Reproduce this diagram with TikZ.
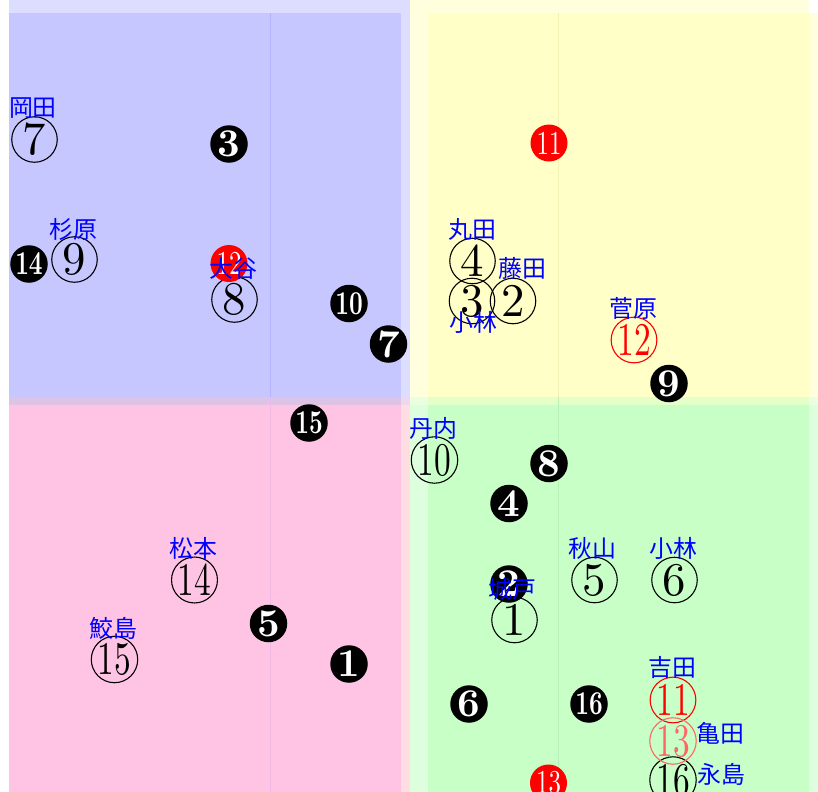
\documentclass[tikz,border=0pt]{standalone}
\usepackage{fontspec}
\usepackage{graphicx}
\newfontfamily\cjk{Noto Sans CJK JP}
\definecolor{lavout}{HTML}{DDDDFF}
\definecolor{bluein}{HTML}{C7C7FF}
\definecolor{yelout}{HTML}{FFFFDD}
\definecolor{yelin}{HTML}{FFFFC7}
\definecolor{pinkin}{HTML}{FFC4E4}
\definecolor{pinkout}{HTML}{FFDDE3}
\definecolor{greenin}{HTML}{C7FFC7}
\definecolor{greenout}{HTML}{DDFFDD}
\definecolor{bandbp}{HTML}{DEC4E4}
\definecolor{bandbp2}{HTML}{F0D8EC}
\definecolor{bandyg}{HTML}{E4FFC8}
\definecolor{bandyg2}{HTML}{EAFFE0}
\definecolor{lineb}{HTML}{B4B4FF}
\definecolor{linep}{HTML}{F0B8E4}
\definecolor{liney}{HTML}{F2F2B4}
\definecolor{lineg}{HTML}{B6F2B6}
% digits drawn at the 10pt design size and enlarged
\newcommand\dgone[1]{\scalebox{4.7}{#1}}
\newcommand\dgtwo[1]{\scalebox{3.35}[4.7]{#1}}
\newcommand\bkone[1]{\scalebox{3.95}{\bfseries #1}}
\newcommand\bktwo[1]{\scalebox{2.4}[3.35]{\bfseries #1}}
\newcommand\rdtwo[1]{\scalebox{2.5}[3.35]{#1}}
\tikzset{
  opencirc/.style={circle, draw=black, line width=1.1bp, minimum size=45.5bp, inner sep=0pt,
    text=black, font=\fontsize{10}{10}\selectfont},
  redopen/.style={opencirc, draw=red, text=red},
  lightred/.style={opencirc, draw=red!60, text=red!60},
  blackcirc/.style={circle, fill=black, text=white, minimum size=37.5bp, inner sep=0pt,
    font=\fontsize{10}{10}\selectfont},
  redfill/.style={circle, fill=red, text=white, minimum size=37bp, inner sep=0pt,
    font=\fontsize{10}{10}\selectfont},
  lbl/.style={text=blue, inner sep=0pt, font=\cjk\fontsize{24}{24}\selectfont}
}
\begin{document}
\begin{tikzpicture}[x=1bp,y=-1bp]
\useasboundingbox (0,0) rectangle (818,792);
\fill[white] (0,0) rectangle (818,792);
% top band
\fill[lavout] (9,0) rectangle (410,13);
\fill[yelout] (410,0) rectangle (809,13);
% upper row
\fill[bluein] (9,13) rectangle (401,397);
\fill[lavout] (401,13) rectangle (410,397);
\fill[yelout] (410,13) rectangle (428,397);
\fill[yelin] (428,13) rectangle (809,397);
\fill[yelout] (809,13) rectangle (818,397);
% band
\fill[bandbp] (9,397) rectangle (401,405);
\fill[bandbp2] (401,397) rectangle (410,405);
\fill[bandyg2] (410,397) rectangle (428,405);
\fill[bandyg] (428,397) rectangle (809,405);
\fill[bandyg2] (809,397) rectangle (818,405);
% lower row
\fill[pinkin] (9,405) rectangle (401,792);
\fill[pinkout] (401,405) rectangle (410,792);
\fill[greenout] (410,405) rectangle (428,792);
\fill[greenin] (428,405) rectangle (809,792);
\fill[greenout] (809,405) rectangle (818,792);
% faint vertical lines
\draw[lineb, line width=0.8bp] (270,13) -- (270,397);
\draw[linep, line width=0.8bp] (270,397) -- (270,792);
\draw[liney, line width=0.8bp] (558,13) -- (558,397);
\draw[lineg, line width=0.8bp] (558,397) -- (558,792);

% open circles
\node[opencirc] (o7) at (34.5,139.5) {\dgone{7}};
\node[opencirc] (o9) at (74.5,259.5) {\dgone{9}};
\node[opencirc] (o8) at (234.5,299.5) {\dgone{8}};
\node[opencirc] (o4) at (472.5,261) {\dgone{4}};
\node[opencirc] (o3) at (472,301) {\dgone{3}};
\node[opencirc] (o2) at (513,301) {\dgone{2}};
\node[opencirc] (o14) at (194.5,580) {\dgtwo{14}};
\node[opencirc] (o15) at (114.5,659.5) {\dgtwo{15}};
\node[opencirc] (o10) at (434.5,460) {\dgtwo{10}};
\node[opencirc] (o5) at (594.5,580) {\dgone{5}};
\node[opencirc] (o6) at (674.5,580) {\dgone{6}};
\node[opencirc] (o1) at (514.5,620) {\dgone{1}};
\node[opencirc] (o16) at (673,780) {\dgtwo{16}};
\node[redopen] (r12) at (634,340) {\dgtwo{12}};
\node[redopen] (r11) at (673,700) {\dgtwo{11}};
\node[lightred] (r13) at (673,741) {\dgtwo{13}};

% black filled
\node[blackcirc] (b3) at (229,144) {\bkone{3}};
\node[blackcirc] (b14) at (29,264) {\bktwo{14}};
\node[blackcirc] (b10) at (349,303.5) {\bktwo{10}};
\node[blackcirc] (b7) at (388.5,344) {\bkone{7}};
\node[blackcirc] (b15) at (309,423) {\bktwo{15}};
\node[blackcirc] (b9) at (669,383.5) {\bkone{9}};
\node[blackcirc] (b5) at (268.5,623.5) {\bkone{5}};
\node[blackcirc] (b1) at (349,664) {\bkone{1}};
\node[blackcirc] (b8) at (549,463.5) {\bkone{8}};
\node[blackcirc] (b4) at (509,503.5) {\bkone{4}};
\node[blackcirc] (b2) at (509,584) {\bkone{2}};
\node[blackcirc] (b6) at (469,704) {\bkone{6}};
\node[blackcirc] (b16) at (589,704) {\bktwo{16}};

% red filled
\node[redfill] (f11) at (549,143) {\rdtwo{11}};
\node[redfill] (f12) at (229,263.5) {\rdtwo{12}};
\node[redfill] (f13) at (548.5,783) {\rdtwo{13}};

% labels
\node[lbl] (l1) at (33,108) {岡田};
\node[lbl] (l2) at (73,229) {杉原};
\node[lbl] (l3) at (233,268) {大谷};
\node[lbl] (l4) at (472.5,229) {丸田};
\node[lbl] (l5) at (522,268) {藤田};
\node[lbl] (l6) at (473.5,322) {小林};
\node[lbl] (l7) at (633,308) {菅原};
\node[lbl] (l8) at (193,548) {松本};
\node[lbl] (l9) at (113,628.5) {鮫島};
\node[lbl] (l10) at (433,428.5) {丹内};
\node[lbl] (l11) at (592,548) {秋山};
\node[lbl] (l12) at (673,548) {小林};
\node[lbl] (l13) at (512.5,589) {城戸};
\node[lbl] (l14) at (672.5,667.5) {吉田};
\node[lbl] (l15) at (720.5,733.5) {亀田};
\node[lbl] (l16) at (721,774) {永島};
\end{tikzpicture}
\end{document}
